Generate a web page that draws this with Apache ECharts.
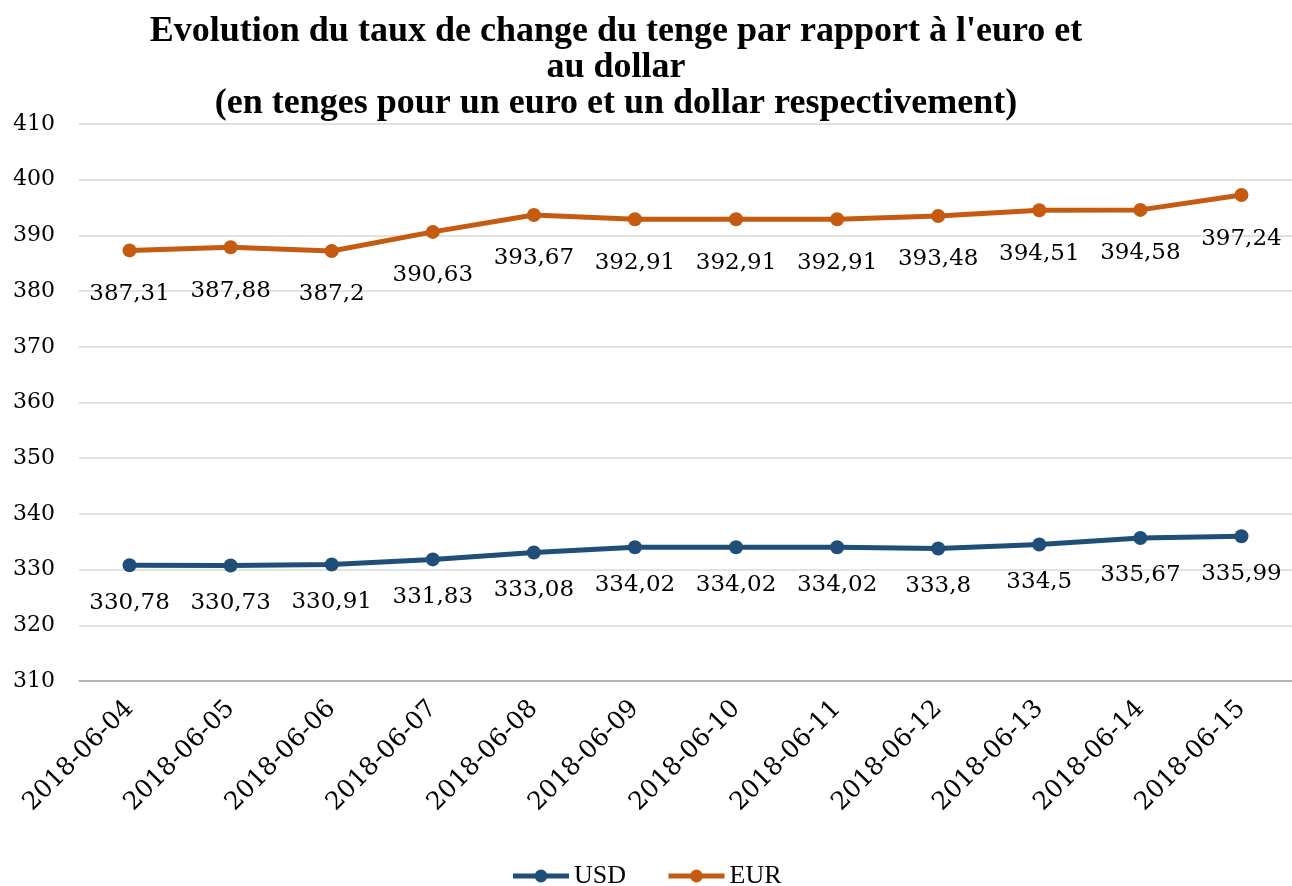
<!DOCTYPE html>
<html>
<head>
<meta charset="utf-8">
<script src="https://cdn.jsdelivr.net/npm/echarts@6/dist/echarts.min.js"></script>
<style>
    html, body { margin: 0; padding: 0; background: #fff; }
    #chart { width: 1292px; height: 886px; }
</style>
</head>
<body>
<div id="chart"></div>
<script>
// dates
var dates = ['2018-06-04', '2018-06-05', '2018-06-06', '2018-06-07', '2018-06-08', '2018-06-09',
    '2018-06-10', '2018-06-11', '2018-06-12', '2018-06-13', '2018-06-14', '2018-06-15'];
// taux en tenges
var usd = [330.78, 330.73, 330.91, 331.83, 333.08, 334.02, 334.02, 334.02, 333.8, 334.5, 335.67, 335.99];
var eur = [387.31, 387.88, 387.2, 390.63, 393.67, 392.91, 392.91, 392.91, 393.48, 394.51, 394.58, 397.24];

var serif = "Georgia, 'DejaVu Serif', serif";

var chart = echarts.init(document.getElementById('chart'));

// format virgule décimale
function virgule(p) {
    return String(p.value).replace('.', ',');
}

var option = {
    backgroundColor: '#fff',
    animation: false,
    title: {
        text: "Evolution du taux de change du tenge par rapport à l'euro et\nau dollar\n(en tenges pour un euro et un dollar respectivement)",
        left: 611,
        top: 9,
        textAlign: 'center',
        textStyle: {
            fontFamily: "'Liberation Serif', serif",
            fontWeight: 'bold',
            fontSize: 36,
            lineHeight: 36,
            color: '#000'
        }
    },
    legend: {
        bottom: -8,
        left: 'center',
        itemWidth: 56,
        itemHeight: 16,
        itemGap: 40,
        lineStyle: { width: 5 },
        textStyle: {
            fontFamily: "'Liberation Serif', serif",
            fontSize: 26,
            color: '#000'
        },
        data: ['USD', 'EUR']
    },
    grid: {
        left: 79,
        right: 0,
        top: 124,
        bottom: 205
    },
    xAxis: {
        type: 'category',
        data: dates,
        axisTick: { show: false },
        axisLine: { lineStyle: { color: '#a6a6a6', width: 1.5 } },
        axisLabel: {
            rotate: 45,
            margin: 24,
            fontFamily: serif,
            fontSize: 25,
            color: '#000'
        }
    },
    yAxis: {
        type: 'value',
        min: 310,
        max: 410,
        interval: 10,
        axisLine: { show: false },
        axisTick: { show: false },
        axisLabel: {
            margin: 24,
            fontFamily: serif,
            fontSize: 22,
            color: '#000'
        },
        splitLine: { lineStyle: { color: '#d9d9d9', width: 1.5 } }
    },
    series: [
        {
            name: 'USD',
            type: 'line',
            data: usd,
            symbol: 'circle',
            symbolSize: 14,
            color: '#1f4e79',
            lineStyle: { width: 5 },
            label: {
                show: true,
                position: 'bottom',
                distance: 19,
                formatter: virgule,
                fontFamily: serif,
                fontSize: 23,
                color: '#000'
            }
        },
        {
            name: 'EUR',
            type: 'line',
            data: eur,
            symbol: 'circle',
            symbolSize: 14,
            color: '#c55a11',
            lineStyle: { width: 5 },
            label: {
                show: true,
                position: 'bottom',
                distance: 25,
                formatter: virgule,
                fontFamily: serif,
                fontSize: 23,
                color: '#000'
            }
        }
    ]
};

chart.setOption(option);
</script>
</body>
</html>
